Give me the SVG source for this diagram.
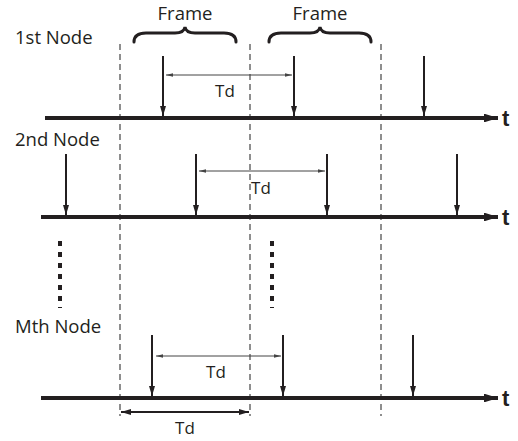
<svg xmlns="http://www.w3.org/2000/svg" width="518" height="441" viewBox="0 0 518 441">
  <style>
    .lbl { font-family: "Open Sans", "Noto Sans", sans-serif; font-size: 18.5px; fill: #231f20; }
    .td { font-family: "Open Sans", "Noto Sans", sans-serif; font-size: 17px; fill: #231f20; }
    .t { font-family: "Liberation Sans", Arial, sans-serif; font-size: 22px; font-weight: bold; fill: #231f20; }
    .axis { stroke: #231f20; stroke-width: 4; fill: none; }
    .pulse { stroke: #231f20; stroke-width: 2; fill: none; }
    .span { stroke: #444; stroke-width: 1; fill: none; }
    .grid { stroke: #444; stroke-width: 1.2; stroke-dasharray: 6 4; fill: none; }
    .dots { stroke: #231f20; stroke-width: 4; stroke-dasharray: 5 6; fill: none; }
    .brace { stroke: #231f20; stroke-width: 3; fill: none; stroke-linecap: round; }
  </style>
  <defs>
    <marker id="axisHead" markerWidth="3.5" markerHeight="2.2" refX="3.5" refY="1.1" orient="auto" markerUnits="strokeWidth">
      <path d="M0,0 L3.5,1.1 L0,2.2 z" fill="#231f20"/>
    </marker>
    <marker id="pulseHead" markerWidth="5" markerHeight="3" refX="5" refY="1.5" orient="auto" markerUnits="strokeWidth">
      <path d="M0,0 L5,1.5 L0,3 z" fill="#231f20"/>
    </marker>
    <marker id="spanHead" markerWidth="7" markerHeight="3.5" refX="7" refY="1.75" orient="auto-start-reverse" markerUnits="strokeWidth">
      <path d="M0,0 L7,1.75 L0,3.5 z" fill="#444"/>
    </marker>
    <marker id="boldHead" markerWidth="5" markerHeight="3" refX="5" refY="1.5" orient="auto-start-reverse" markerUnits="strokeWidth">
      <path d="M0,0 L5,1.5 L0,3 z" fill="#231f20"/>
    </marker>
  </defs>

  <!-- frame boundaries -->
  <g id="grid">
    <line class="grid" x1="120" y1="44" x2="120" y2="416"/>
    <line class="grid" x1="250" y1="44" x2="250" y2="416"/>
    <line class="grid" x1="381" y1="44" x2="381" y2="416"/>
  </g>

  <!-- frame braces -->
  <g id="frame1">
    <path class="brace" d="M134,42 Q134,33 146,33 L175,33 Q184,33 185,27 Q186,33 195,33 L224,33 Q236,33 236,42"/>
    <text class="lbl" x="185" y="20" text-anchor="middle">Frame</text>
  </g>
  <g id="frame2">
    <path class="brace" d="M269,42 Q269,33 281,33 L310,33 Q319,33 320,27 Q321,33 330,33 L359,33 Q371,33 371,42"/>
    <text class="lbl" x="320" y="20" text-anchor="middle">Frame</text>
  </g>

  <!-- node 1 timeline -->
  <g id="node1">
    <text class="lbl" x="15" y="44">1st Node</text>
    <line class="axis" x1="45" y1="118" x2="498" y2="118" marker-end="url(#axisHead)"/>
    <text class="t" x="502" y="126">t</text>
  </g>
  <!-- node 2 timeline -->
  <g id="node2">
    <text class="lbl" x="15" y="146">2nd Node</text>
    <line class="axis" x1="41" y1="217" x2="498" y2="217" marker-end="url(#axisHead)"/>
    <text class="t" x="502" y="225">t</text>
  </g>
  <!-- node M timeline -->
  <g id="nodeM">
    <text class="lbl" x="15" y="333">Mth Node</text>
    <line class="axis" x1="41" y1="398" x2="498" y2="398" marker-end="url(#axisHead)"/>
    <text class="t" x="502" y="406">t</text>
  </g>

  <!-- ellipsis between node 2 and node M -->
  <g id="ellipsis">
    <line class="dots" x1="60" y1="241" x2="60" y2="308"/>
    <line class="dots" x1="272" y1="241" x2="272" y2="308"/>
  </g>

  <g id="connectors">
    <!-- transmissions, node 1 -->
    <line class="pulse" x1="163" y1="56" x2="163" y2="116" marker-end="url(#pulseHead)"/>
    <line class="pulse" x1="294" y1="56" x2="294" y2="116" marker-end="url(#pulseHead)"/>
    <line class="pulse" x1="424" y1="56" x2="424" y2="116" marker-end="url(#pulseHead)"/>
    <!-- transmissions, node 2 -->
    <line class="pulse" x1="66" y1="154" x2="66" y2="215" marker-end="url(#pulseHead)"/>
    <line class="pulse" x1="196" y1="154" x2="196" y2="215" marker-end="url(#pulseHead)"/>
    <line class="pulse" x1="327" y1="154" x2="327" y2="215" marker-end="url(#pulseHead)"/>
    <line class="pulse" x1="457" y1="154" x2="457" y2="215" marker-end="url(#pulseHead)"/>
    <!-- transmissions, node M -->
    <line class="pulse" x1="152" y1="335" x2="152" y2="396" marker-end="url(#pulseHead)"/>
    <line class="pulse" x1="283" y1="335" x2="283" y2="396" marker-end="url(#pulseHead)"/>
    <line class="pulse" x1="413" y1="335" x2="413" y2="396" marker-end="url(#pulseHead)"/>

    <!-- delay spans -->
    <line class="span" x1="166" y1="75" x2="292" y2="75" marker-start="url(#spanHead)" marker-end="url(#spanHead)"/>
    <line class="span" x1="199" y1="171" x2="325" y2="171" marker-start="url(#spanHead)" marker-end="url(#spanHead)"/>
    <line class="span" x1="156" y1="356" x2="281" y2="356" marker-start="url(#spanHead)" marker-end="url(#spanHead)"/>
    <line class="pulse" x1="121" y1="412" x2="249" y2="412" marker-start="url(#boldHead)" marker-end="url(#boldHead)"/>
  </g>

  <g id="delays">
    <text class="td" x="225" y="97" text-anchor="middle">Td</text>
    <text class="td" x="261" y="194" text-anchor="middle">Td</text>
    <text class="td" x="216" y="378" text-anchor="middle">Td</text>
    <text class="td" x="185" y="434" text-anchor="middle">Td</text>
  </g>
</svg>
